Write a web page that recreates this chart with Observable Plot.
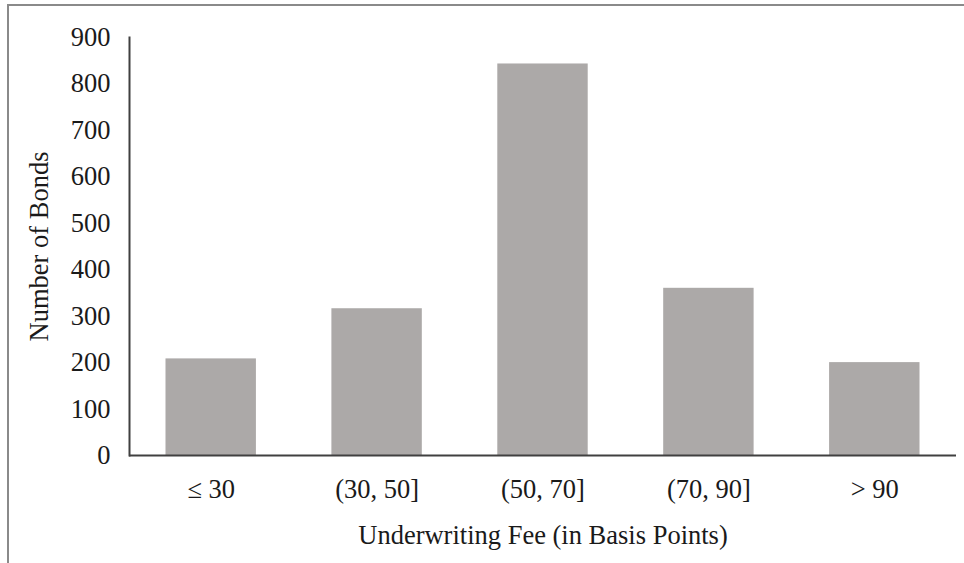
<!DOCTYPE html>
<html>
<head>
<meta charset="utf-8">
<script src="https://cdn.jsdelivr.net/npm/d3@7"></script>
<script src="https://cdn.jsdelivr.net/npm/@observablehq/plot@0.6"></script>
<style>
  html, body { margin: 0; padding: 0; background: #fff; }
  #wrap { position: relative; width: 964px; height: 563px; overflow: hidden; }
  #border { position: absolute; left: 7px; top: 4px; width: 2000px; height: 2000px;
            border-left: 2px solid #8a8a8a; border-top: 2px solid #8a8a8a; pointer-events: none; }
</style>
</head>
<body>
<div id="wrap"><div id="border"></div></div>
<script>
const categories = ["≤ 30", "(30, 50]", "(50, 70]", "(70, 90]", "> 90"];
const counts = [208, 316, 843, 360, 200];
const yTicks = [0, 100, 200, 300, 400, 500, 600, 700, 800, 900];

const data = categories.map((c, i) => ({category: c, count: counts[i]}));

const chart = Plot.plot({
  width: 964,
  height: 563,
  marginLeft: 129,
  marginRight: 8,
  marginTop: 37,
  marginBottom: 108,
  style: {fontFamily: "'Liberation Serif', 'Times New Roman', serif", fontSize: "26.5px", color: "#1a1a1a", background: "transparent"},
  x: {domain: categories, paddingInner: 0.455, paddingOuter: 0.22, round: false},
  y: {domain: [0, 900]},
  marks: [
    Plot.barY(data, {x: "category", y: "count", fill: "#aca9a8"}),
    Plot.axisX({tickSize: 0, tickPadding: 24, label: "Underwriting Fee (in Basis Points)", labelArrow: "none", labelAnchor: "center", labelOffset: 88, fontSize: 26.5}),
    Plot.axisY({ticks: yTicks, tickSize: 0, tickPadding: 19, tickFormat: d3.format("d"), label: "Number of Bonds", labelArrow: "none", labelAnchor: "center", labelOffset: 100, fontSize: 26.5}),
    Plot.frame({anchor: "left", stroke: "#404040", strokeWidth: 2}),
    Plot.ruleY([0], {stroke: "#404040", strokeWidth: 2})
  ]
});
chart.style.position = "absolute";
chart.style.left = "0px";
chart.style.top = "0px";
document.getElementById("wrap").appendChild(chart);
</script>
</body>
</html>
